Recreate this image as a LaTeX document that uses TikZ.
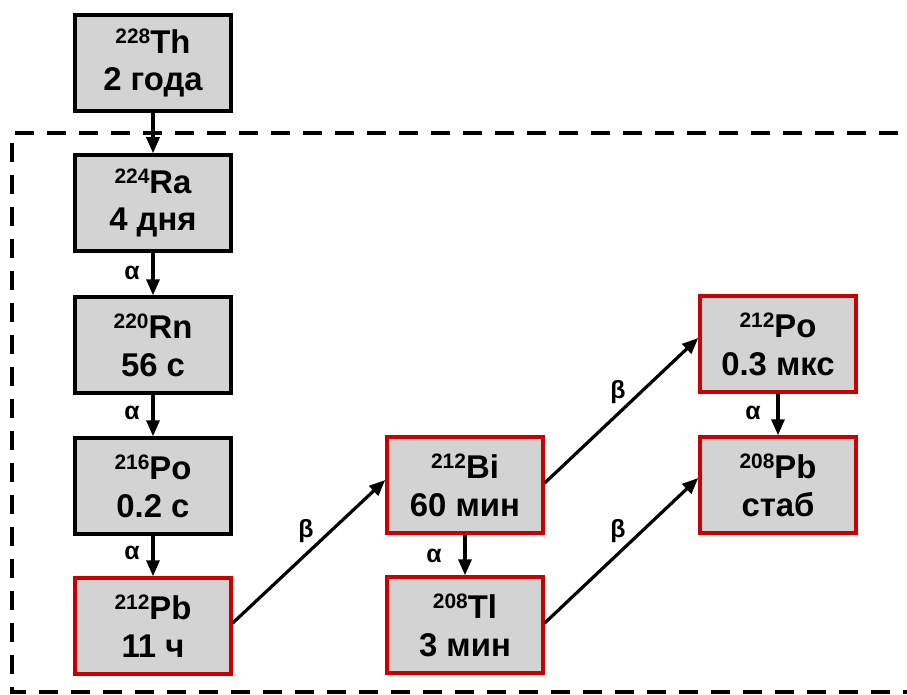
\documentclass[tikz,border=0pt]{standalone}
\usepackage{fontspec}
\setmainfont{Liberation Sans}
\usetikzlibrary{arrows.meta}
\definecolor{boxgray}{RGB}{211,211,211}
\definecolor{boxred}{RGB}{200,0,0}
% isotope label: small raised mass number before the symbol
\newcommand\isotope[2]{\raisebox{10bp}{\fontsize{21}{21}\selectfont #1}#2}

\begin{document}
\begin{tikzpicture}[x=1bp,y=-1bp,
  nuc/.style={draw=black, line width=3.5bp, fill=boxgray,
    minimum width=156bp, minimum height=96bp, inner sep=0pt, align=center,
    font=\fontsize{33}{38}\selectfont\bfseries},
  nucred/.style={nuc, draw=boxred},
  decay/.style={-{Triangle[length=16bp,width=13bp]}, line width=3.2bp},
  lbl/.style={font=\fontsize{25}{25}\selectfont\bfseries, inner sep=0pt}
]
\useasboundingbox (0,0) rectangle (907,695);
\clip (0,0) rectangle (907,695);

% region boundary
\draw[line width=4bp, dash pattern=on 19bp off 13bp] (930,133) -- (12,133) -- (12,692) -- (930,692);

% nuclides
\node[nuc]    (th228) at (153,63)  {\isotope{228}{Th}\\2 года};
\node[nuc]    (ra224) at (153,203) {\isotope{224}{Ra}\\4 дня};
\node[nuc]    (rn220) at (153,345) {\isotope{220}{Rn}\\56 с};
\node[nuc]    (po216) at (153,486) {\isotope{216}{Po}\\0.2 с};
\node[nucred] (pb212) at (153,626) {\isotope{212}{Pb}\\11 ч};
\node[nucred] (bi212) at (465,485) {\isotope{212}{Bi}\\60 мин};
\node[nucred] (tl208) at (465,625) {\isotope{208}{Tl}\\3 мин};
\node[nucred] (po212) at (778,344) {\isotope{212}{Po}\\0.3 мкс};
\node[nucred] (pb208) at (778,485) {\isotope{208}{Pb}\\стаб};

% decays
\draw[decay] (th228) -- (ra224);
\draw[decay] (ra224) -- (rn220);
\draw[decay] (rn220) -- (po216);
\draw[decay] (po216) -- (pb212);
\draw[decay] (bi212) -- (tl208);
\draw[decay] (po212) -- (pb208);
\draw[decay] ([yshift=3bp]pb212.east) -- ([yshift=5bp]bi212.west);
\draw[decay] ([yshift=2bp]bi212.east) -- ([yshift=6bp]po212.west);
\draw[decay] ([yshift=2bp]tl208.east) -- ([yshift=7bp]pb208.west);

% decay modes
\node[lbl] (a1) at (132,273) {α};
\node[lbl] (a2) at (132,413) {α};
\node[lbl] (a3) at (132,553) {α};
\node[lbl] (a4) at (434,556) {α};
\node[lbl] (a5) at (753,413) {α};
\node[lbl] (b1) at (306,531) {β};
\node[lbl] (b2) at (618,392) {β};
\node[lbl] (b3) at (618,531) {β};
\end{tikzpicture}
\end{document}
